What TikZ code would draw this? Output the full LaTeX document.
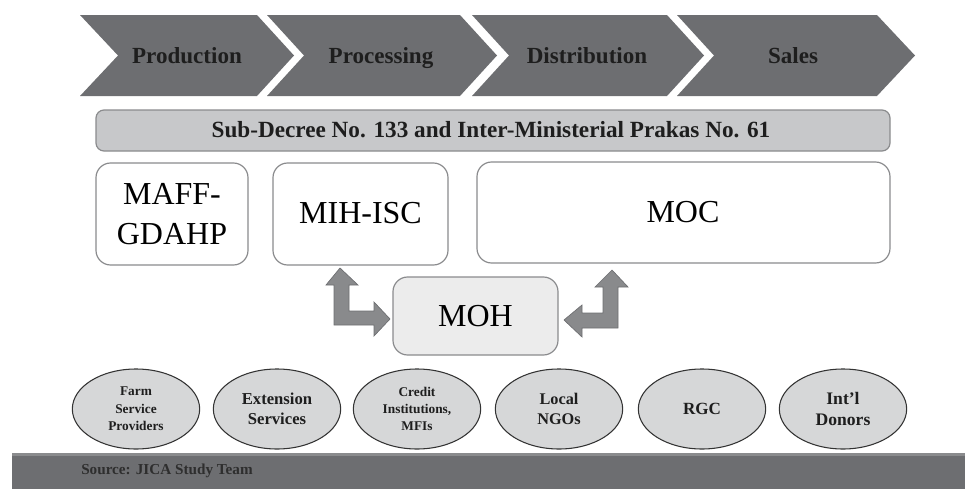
\documentclass[tikz,border=0pt]{standalone}
\usepackage{fontspec}
\setmainfont{Liberation Serif}
\usetikzlibrary{shapes.geometric}
\definecolor{chev}{HTML}{6D6E71}
\definecolor{bar}{HTML}{C7C8CA}
\definecolor{barline}{HTML}{8A8B8D}
\definecolor{ell}{HTML}{D6D7D8}
\definecolor{mohfill}{HTML}{ECECEC}
\definecolor{arr}{HTML}{898A8C}
\definecolor{txt}{HTML}{1E1E1E}
\definecolor{src}{HTML}{2E2E2E}
\begin{document}
\begin{tikzpicture}[x=0.75pt,y=-0.75pt,
  chevshape/.style={fill=chev,draw=none},
  chevtext/.style={text=txt,font=\bfseries\fontsize{17.3}{20}\selectfont,anchor=base},
  orgbox/.style={draw=barline,line width=0.9pt,rounded corners=11pt,fill=white},
  orgtext/.style={text=black,font=\fontsize{24}{30}\selectfont,align=center},
  actor/.style={ellipse,draw=black!80,line width=0.8pt,fill=ell,minimum width=95.5pt,minimum height=60pt,inner sep=0pt,text=txt,align=center},
  bentarrow/.style={fill=arr,draw=chev,line width=0.5pt,line join=miter}]
\useasboundingbox (0,0) rectangle (965,489);
% chevrons
\path[chevshape] (80,15) -- (257,15) -- (294,55.5) -- (257,96) -- (80,96) -- (118,55.5) -- cycle;
\path[chevshape] (267,15) -- (460,15) -- (497,55.5) -- (460,96) -- (267,96) -- (304,55.5) -- cycle;
\path[chevshape] (472,15) -- (667,15) -- (704,55.5) -- (667,96) -- (472,96) -- (509,55.5) -- cycle;
\path[chevshape] (677,15) -- (877,15) -- (915,55.5) -- (877,96) -- (677,96) -- (714,55.5) -- cycle;
\node[chevtext] (prod) at (187,63) {Production};
\node[chevtext] (proc) at (381,63) {Processing};
\node[chevtext] (dist) at (587,63) {Distribution};
\node[chevtext] (sales) at (793,63) {Sales};
% sub-decree bar
\draw[fill=bar,draw=barline,line width=0.9pt,rounded corners=6pt] (96,110) rectangle (890,151);
\node[text=txt,font=\bfseries\fontsize{17.4}{20}\selectfont,anchor=base] (decree) at (491,137.5) {Sub-Decree No. 133 and Inter-Ministerial Prakas No. 61};
% ministry boxes
\draw[orgbox] (96,163) rectangle (248,265);
\node[orgtext] (maff) at (172,214) {MAFF-\\GDAHP};
\draw[orgbox] (273,163) rectangle (448,265);
\node[orgtext] (mih) at (360.5,213) {MIH-ISC};
\draw[orgbox] (477,162) rectangle (890,263);
\node[orgtext] (moc) at (683,212) {MOC};
\draw[orgbox,fill=mohfill] (393,277) rectangle (558,355);
\node[orgtext] (moh) at (475.5,316) {MOH};
% bent arrows
\path[bentarrow] (340,268) -- (358,285) -- (349,285) -- (349,311) -- (374,311) -- (374,302) -- (390,319) -- (374,336) -- (374,325) -- (334,325) -- (334,285) -- (326,285) -- cycle;
\path[bentarrow] (612,270) -- (628,287) -- (618,287) -- (618,328) -- (582,328) -- (582,337) -- (564,320) -- (582,305) -- (582,313) -- (603,313) -- (603,287) -- (595,287) -- cycle;
% actors
\node[actor,font=\bfseries\fontsize{10}{13}\selectfont] (farm) at (136,409) {Farm\\Service\\Providers};
\node[actor,font=\bfseries\fontsize{12.5}{15}\selectfont] (ext) at (277,409) {Extension\\Services};
\node[actor,font=\bfseries\fontsize{10}{13}\selectfont] (credit) at (417,409) {Credit\\Institutions,\\MFIs};
\node[actor,font=\bfseries\fontsize{12.2}{15}\selectfont] (ngo) at (559,409) {Local\\NGOs};
\node[actor,font=\bfseries\fontsize{12.8}{15}\selectfont] (rgc) at (702,409) {RGC};
\node[actor,font=\bfseries\fontsize{13.2}{16}\selectfont] (donor) at (843,409) {Int’l\\Donors};
% source band
\fill[chev] (12,453) rectangle (965,489);
\fill[barline] (12,453) rectangle (965,456);
\node[anchor=west,text=src,font=\bfseries\fontsize{11.4}{13}\selectfont,inner sep=0pt] (source) at (81,471) {Source: JICA Study Team};
\end{tikzpicture}
\end{document}
